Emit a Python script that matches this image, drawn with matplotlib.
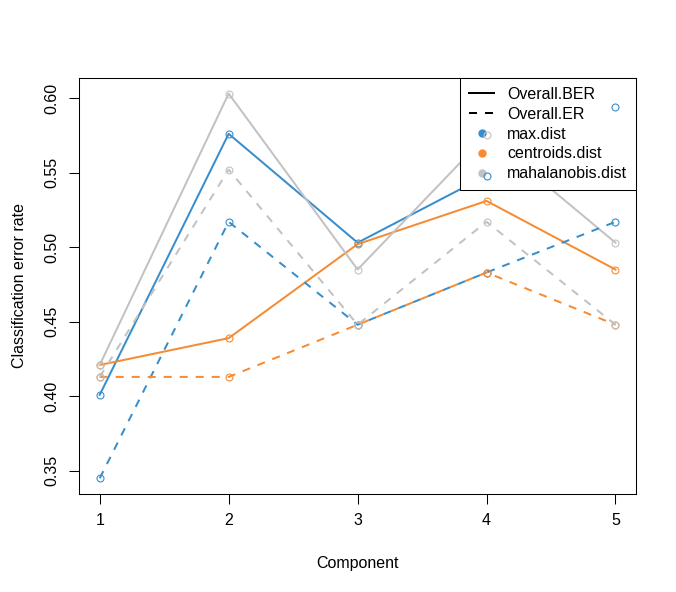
import numpy as np
import matplotlib.pyplot as plt
from matplotlib.lines import Line2D

plt.rcParams['font.family'] = ['Liberation Sans', 'DejaVu Sans']
plt.rcParams['font.size'] = 11.5

# data
comp = [1, 2, 3, 4, 5]
distances = ["max.dist", "centroids.dist", "mahalanobis.dist"]
colors = ["#388ECC", "#F68B33", "#C2C2C2"]

ber_max = [0.401, 0.576, 0.503, 0.548, 0.594]
ber_centroids = [0.421, 0.439, 0.502, 0.531, 0.485]
ber_mahalanobis = [0.421, 0.603, 0.485, 0.575, 0.503]

er_max = [0.345, 0.517, 0.448, 0.483, 0.517]
er_centroids = [0.413, 0.413, 0.448, 0.483, 0.448]
er_mahalanobis = [0.413, 0.552, 0.448, 0.517, 0.448]

ber = [ber_max, ber_centroids, ber_mahalanobis]
er = [er_max, er_centroids, er_mahalanobis]

fig = plt.figure(figsize=(6.76, 5.92), dpi=100)
fig.subplots_adjust(left=0.117, right=0.941, bottom=0.166, top=0.868)
ax = fig.add_subplot(111)

lw = 1.44
for vals, col in zip(ber, colors):
    ax.plot(comp, vals, color=col, lw=lw, zorder=2)
for vals, col in zip(er, colors):
    ax.plot(comp, vals, color=col, lw=lw, dashes=(4, 4), zorder=2)
# open circles drawn on top of everything (legend included)
for vals, col in zip(ber + er, colors + colors):
    ax.plot(comp, vals, linestyle='none', marker='o', ms=5, mfc='none',
            mec=col, mew=0.8, zorder=6)

ax.margins(x=0.04, y=0.04)
ax.set_xticks(comp)
ax.set_yticks([0.35, 0.40, 0.45, 0.50, 0.55, 0.60])
ax.set_yticklabels(["0.35", "0.40", "0.45", "0.50", "0.55", "0.60"],
                   rotation=90, va='center')
ax.tick_params(length=7, width=0.75, pad=7, colors='black')
for sp in ax.spines.values():
    sp.set_linewidth(0.75)

ax.set_xlabel("Component", labelpad=20)
ax.set_ylabel("Classification error rate", labelpad=13)

handles = [Line2D([], [], color='black', lw=lw),
           Line2D([], [], color='black', lw=lw, dashes=(4, 4))]
for col in colors:
    handles.append(Line2D([], [], linestyle='none', marker='o', ms=5,
                          color=col))
labels = ["Overall.BER", "Overall.ER"] + distances
leg = ax.legend(handles, labels, loc='upper right', bbox_to_anchor=(1, 1),
                borderaxespad=0, fancybox=False, framealpha=1,
                edgecolor='black', handlelength=1.6, handletextpad=0.8,
                labelspacing=0.3, borderpad=0.55)
leg.get_frame().set_linewidth(0.75)
leg.set_zorder(5)

fig.savefig("out.png", dpi=100)
